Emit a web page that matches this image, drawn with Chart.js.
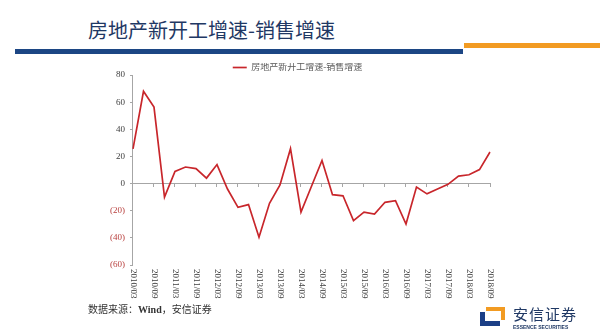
<!DOCTYPE html>
<html>
<head>
<meta charset="utf-8">
<script src="https://cdn.jsdelivr.net/npm/chart.js@4"></script>
<style>
  html, body { margin: 0; padding: 0; background: #fff; }
  body { width: 600px; height: 336px; position: relative; overflow: hidden; font-family: "Noto Sans CJK SC", sans-serif; }
  .title { position: absolute; left: 88px; top: 15px; font-size: 20px; color: #1f3864; white-space: nowrap; }
  .bar-blue { position: absolute; left: 15px; top: 49px; width: 448px; height: 5px; background: #1c4684; }
  .bar-orange { position: absolute; left: 464px; top: 43px; width: 136px; height: 5px; background: #f29b22; }
  .chart-box { position: absolute; left: 0; top: 63px; width: 600px; height: 246px; }
  .source { position: absolute; left: 88px; top: 301px; font-size: 10px; color: #333; font-family: "Liberation Serif", "Noto Sans CJK SC", serif; white-space: nowrap; }
  .source b { font-weight: bold; }
  .logo-blue { position: absolute; left: 480px; top: 312px; width: 20px; height: 14px; box-sizing: border-box; border-left: 5px solid #1c3f86; border-bottom: 5px solid #1c3f86; }
  .logo-orange { position: absolute; left: 486px; top: 307px; width: 19px; height: 13px; box-sizing: border-box; border-top: 4px solid #f29b22; border-right: 4px solid #f29b22; }
  .logo-cn { position: absolute; left: 513px; top: 304px; font-size: 15px; line-height: 20px; color: #1f3864; letter-spacing: 1px; white-space: nowrap; }
  .logo-en { position: absolute; left: 513px; top: 324px; font-size: 5px; line-height: 6px; font-weight: bold; color: #1f3864; white-space: nowrap; font-family: "Liberation Sans", sans-serif; }
</style>
</head>
<body>
<div class="title">房地产新开工增速-销售增速</div>
<div class="bar-blue"></div>
<div class="bar-orange"></div>
<div class="chart-box"><canvas id="line-chart"></canvas></div>
<div class="source">数据来源：<b>Wind</b>，安信证券</div>
<div class="logo-blue"></div>
<div class="logo-orange"></div>
<div class="logo-cn">安信证券</div>
<div class="logo-en">ESSENCE SECURITIES</div>
<script>
// quarterly data, 2010/03 - 2018/09
const quarters = ["2010/03","2010/06","2010/09","2010/12","2011/03","2011/06","2011/09","2011/12",
  "2012/03","2012/06","2012/09","2012/12","2013/03","2013/06","2013/09","2013/12",
  "2014/03","2014/06","2014/09","2014/12","2015/03","2015/06","2015/09","2015/12",
  "2016/03","2016/06","2016/09","2016/12","2017/03","2017/06","2017/09","2017/12",
  "2018/03","2018/06","2018/09"];
const spread = [25.5, 68, 56.4, -10, 9, 12.2, 11, 4,
  14, -4, -17.5, -15.5, -39.5, -14.5, -1, 25.7,
  -21, -2, 17, -8.2, -9, -27.3, -21, -22.5,
  -13.8, -12.6, -29.8, -2.6, -7.6, -4, -0.6, 5.5,
  6.5, 10.3, 23.3];
const seriesName = "房地产新开工增速-销售增速";
const yTicks = [-60, -40, -20, 0, 20, 40, 60, 80];

const axisGray = "#a6a6a6";
const lineRed = "#c8262b";
const serif = "'Liberation Serif', 'Noto Sans CJK SC', serif";

// x labels read top-to-bottom, so draw them rotated clockwise
const xLabels = {
  id: "xLabels",
  afterDraw(chart) {
    const ctx = chart.ctx;
    const sx = chart.scales.x;
    const bottom = chart.chartArea.bottom;
    ctx.save();
    ctx.font = "9px " + serif;
    ctx.fillStyle = "#404040";
    ctx.textAlign = "left";
    ctx.textBaseline = "middle";
    quarters.forEach((q, i) => {
      if (i % 2) return;
      const x = sx.getPixelForValue(i);
      ctx.save();
      ctx.translate(x, bottom + 4);
      ctx.rotate(Math.PI / 2);
      ctx.fillText(q, 0, 0);
      ctx.restore();
    });
    ctx.restore();
  }
};

new Chart(document.getElementById("line-chart"), {
  type: "line",
  data: {
    labels: quarters,
    datasets: [{
      label: seriesName,
      data: spread,
      borderColor: lineRed,
      backgroundColor: lineRed,
      borderWidth: 1.7,
      pointRadius: 0,
      tension: 0,
      fill: false
    }]
  },
  options: {
    responsive: true,
    maintainAspectRatio: false,
    animation: false,
    layout: { padding: { left: 105, right: 110, top: 0, bottom: 44 } },
    plugins: {
      legend: {
        position: "top",
        maxHeight: 12,
        labels: {
          usePointStyle: true,
          pointStyle: "line",
          pointStyleWidth: 14,
          padding: 0,
          color: "#595959",
          font: { size: 9, lineHeight: 1, family: serif }
        }
      },
      tooltip: { enabled: false }
    },
    scales: {
      x: { display: false },
      xZero: {
        axis: "x",
        type: "category",
        position: { y: 0 },
        ticks: { display: false },
        grid: {
          drawOnChartArea: false,
          tickLength: 3,
          color: (c) => (c.index % 2 ? "rgba(0,0,0,0)" : axisGray)
        },
        border: { display: true, color: axisGray }
      },
      y: {
        min: -60,
        max: 80,
        afterBuildTicks: (scale) => { scale.ticks = yTicks.map(v => ({ value: v })); },
        ticks: {
          padding: 5,
          font: { size: 9, family: serif },
          color: (c) => (c.tick.value < 0 ? "#b8403e" : "#404040"),
          callback: (v) => (v < 0 ? "(" + (-v) + ")" : v)
        },
        grid: { drawOnChartArea: false, tickLength: 3, color: axisGray },
        border: { color: axisGray }
      }
    }
  },
  plugins: [xLabels]
});
</script>
</body>
</html>
